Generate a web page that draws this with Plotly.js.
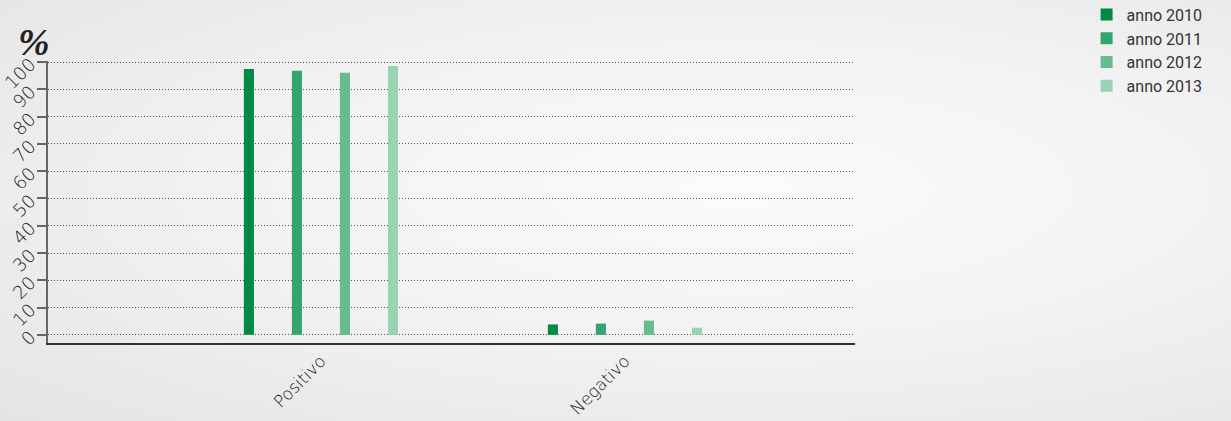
<!DOCTYPE html>
<html><head><meta charset="utf-8">
<script src="https://cdn.plot.ly/plotly-3.0.1.min.js"></script>
<style>
html,body{margin:0;padding:0;width:1231px;height:421px;overflow:hidden;}
body{background:radial-gradient(ellipse at 60% 45%, #fbfbfb 0%, #f3f3f3 45%, #e4e4e4 100%);}
#chart{width:1231px;height:421px;}
</style></head>
<body><div id="chart"></div>
<script>
const categories = ["Positivo", "Negativo"];
const seriesNames = ["anno 2010", "anno 2011", "anno 2012", "anno 2013"];
const v2010 = [97.5, 3.8];
const v2011 = [96.8, 4.1];
const v2012 = [96.1, 5.2];
const v2013 = [98.6, 2.6];
const yTicks = [0,10,20,30,40,50,60,70,80,90,100];
const colors = ["#008a45", "#33a56e", "#66bb8f", "#99d3b4"];
const values = [v2010, v2011, v2012, v2013];

const traces = values.map((v,i)=>({
  type:'bar', name:seriesNames[i], x:[0,1], y:v,
  marker:{color:colors[i]}, hoverinfo:'none'
}));

const layout = {
  width:1231, height:421,
  paper_bgcolor:'rgba(0,0,0,0)', plot_bgcolor:'rgba(0,0,0,0)',
  margin:{l:48, r:376, t:61, b:78, autoexpand:false},
  barmode:'group', bargap:0.368, bargroupgap:0.79,
  font:{family:'DejaVu Sans, sans-serif', color:'#222'},
  xaxis:{range:[-0.898,1.757], tickvals:[0,1], ticktext:categories, tickangle:-45,
    showgrid:false, showline:true, linecolor:'#333', linewidth:1.5, ticks:'',
    tickfont:{family:'DejaVu Sans, sans-serif', size:17, color:'#1a1a1a', weight:200}, zeroline:false, fixedrange:true, automargin:false},
  yaxis:{range:[-3,100.4], tickvals:yTicks, ticktext:yTicks.map(String), tickangle:-45,
    showgrid:true, gridcolor:'#555', griddash:'1px,2px', gridwidth:1,
    showline:true, linecolor:'#666', linewidth:2, ticks:'outside', ticklen:9, tickwidth:2, tickcolor:'#666',
    ticklabelstandoff:3,
    zeroline:false, tickfont:{family:'DejaVu Sans, sans-serif', size:18, color:'#1a1a1a', weight:200}, fixedrange:true, automargin:false},
  legend:{x:1.287, xanchor:'left', y:1.225, yanchor:'top', bgcolor:'rgba(0,0,0,0)',
    font:{family:'Roboto, sans-serif', size:16, color:'#333'}, tracegroupgap:6, itemwidth:30},
  showlegend:true,
  annotations:[{text:'%', xref:'paper', yref:'paper', x:-0.04, y:0.985, xanchor:'left', yanchor:'bottom',
    showarrow:false, font:{family:'Liberation Serif, serif', size:38, color:'#222', weight:'bold', style:'italic'}}]
};
Plotly.newPlot('chart', traces, layout, {displayModeBar:false, staticPlot:true});
</script></body></html>
